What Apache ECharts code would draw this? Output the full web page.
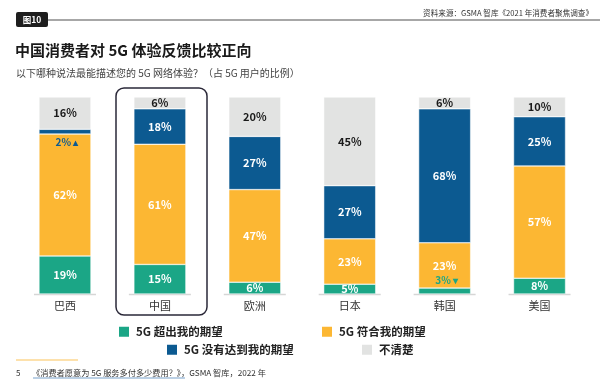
<!DOCTYPE html>
<html><head><meta charset="utf-8">
<script src="https://cdn.jsdelivr.net/npm/echarts@6/dist/echarts.min.js"></script>
<style>html,body{margin:0;padding:0;background:#fff}#c{width:600px;height:387px}</style>
</head><body><div id="c"></div>
<script>
var categories = ['巴西', '中国', '欧洲', '日本', '韩国', '美国'];
var exceeded = [19.3, 15, 6, 5, 3, 8];
var met = [61.9, 61, 47, 23, 23, 57];
var notMet = [2.4, 18, 27, 27, 68, 25];
var unsure = [16.4, 6, 20, 45, 6, 10];
var seriesNames = ['5G 超出我的期望', '5G 符合我的期望', '5G 没有达到我的期望', '不清楚'];
var colors = ['#1ba686', '#fcb733', '#0c5a91', '#e2e3e2'];

var FONT = '"Noto Sans CJK SC", "Noto Sans", sans-serif';
var chart = echarts.init(document.getElementById('c'), null, {renderer: 'canvas'});

function mkData(vals, idx) {
  return vals.map(function (v) {
    var item = {value: v};
    if (v < 4) {
      if (idx === 2) {
        item.label = {position: 'bottom', distance: 3, offset: [2, 0], color: '#0c5a91', fontSize: 10,
          formatter: function (p) { return Math.round(p.value) + '% ▴'; }};
      } else {
        item.label = {position: 'top', distance: 3, offset: [2, 0], color: '#1ba686', fontSize: 10,
          formatter: function (p) { return Math.round(p.value) + '% ▾'; }};
      }
    }
    return item;
  });
}

var allVals = [exceeded, met, notMet, unsure];
var series = allVals.map(function (vals, i) {
  return {
    name: seriesNames[i], type: 'bar', stack: 'a', barWidth: 52,
    itemStyle: {color: colors[i], borderColor: '#fff', borderWidth: 0.5},
    label: {show: true, position: 'inside', color: i === 3 ? '#1a1a1a' : '#fff',
      fontWeight: 'bold', fontSize: 11, fontFamily: FONT,
      formatter: function (p) { return Math.round(p.value) + '%'; }},
    data: mkData(vals, i)
  };
});

series.push({
  type: 'custom', silent: true, z: 1,
  renderItem: function (params, api) {
    var p = api.coord([api.value(0), 0]);
    return {type: 'line', shape: {x1: p[0] - 31, y1: p[1] + 0.5, x2: p[0] + 31, y2: p[1] + 0.5},
      style: {stroke: '#d6d6d6', lineWidth: 1.5}};
  },
  data: categories.map(function (c, i) { return [i, 0]; })
});

function legendAt(i, left, top) {
  return {data: [seriesNames[i]], left: left, top: top, itemWidth: 10, itemHeight: 10, itemGap: 0,
    icon: 'rect', selectedMode: false, itemStyle: {borderWidth: 0},
    textStyle: {fontFamily: FONT, fontWeight: 'bold', fontSize: 11.5, color: '#222', padding: [0, 0, 0, 2]}};
}

chart.setOption({
  animation: false,
  grid: {left: 17.5, right: 13, top: 97, bottom: 93},
  xAxis: {type: 'category', data: categories, axisLine: {show: false}, axisTick: {show: false},
    axisLabel: {fontFamily: FONT, fontSize: 11, color: '#333', margin: 6}},
  yAxis: {type: 'value', min: 0, max: 100, show: false},
  legend: [legendAt(0, 114, 321), legendAt(1, 317, 321), legendAt(2, 162, 339), legendAt(3, 357, 339)],
  series: series,
  graphic: [
    {type: 'line', shape: {x1: 46, y1: 20, x2: 600, y2: 20}, style: {stroke: '#8a8a8a', lineWidth: 1.5}},
    {type: 'rect', shape: {x: 16, y: 12, width: 32, height: 15, r: 2}, style: {fill: '#1e1e1e'}},
    {type: 'text', x: 32, y: 19.5, style: {text: '图10', fill: '#fff', font: 'bold 8.5px ' + FONT, align: 'center', verticalAlign: 'middle'}},
    {type: 'text', x: 593, y: 13, style: {text: '资料来源：GSMA 智库《2021 年消费者聚焦调查》', fill: '#333', font: '7.6px ' + FONT, align: 'right', verticalAlign: 'middle'}},
    {type: 'text', x: 15, y: 50, style: {text: '中国消费者对 5G 体验反馈比较正向', fill: '#1a1a1a', font: 'bold 15px ' + FONT, verticalAlign: 'middle'}},
    {type: 'text', x: 16, y: 73, style: {text: '以下哪种说法最能描述您的 5G 网络体验？（占 5G 用户的比例）', fill: '#444', font: '10px ' + FONT, verticalAlign: 'middle'}},
    {type: 'rect', shape: {x: 116, y: 88, width: 91, height: 227, r: 8}, style: {fill: 'none', stroke: '#2a2838', lineWidth: 1.5}},
    {type: 'line', shape: {x1: 16, y1: 360, x2: 78, y2: 360}, style: {stroke: '#fcc45a', lineWidth: 1.2}},
    {type: 'text', x: 16, y: 373, style: {text: '5', fill: '#333', font: '8px ' + FONT, verticalAlign: 'middle'}},
    {type: 'text', x: 32, y: 373, style: {text: '《消费者愿意为 5G 服务多付多少费用？》，GSMA 智库，2022 年', fill: '#333', font: '8.2px ' + FONT, verticalAlign: 'middle'}},
    {type: 'line', shape: {x1: 33, y1: 378, x2: 185, y2: 378}, style: {stroke: '#3c78b4', lineWidth: 0.7}}
  ]
});
</script></body></html>
